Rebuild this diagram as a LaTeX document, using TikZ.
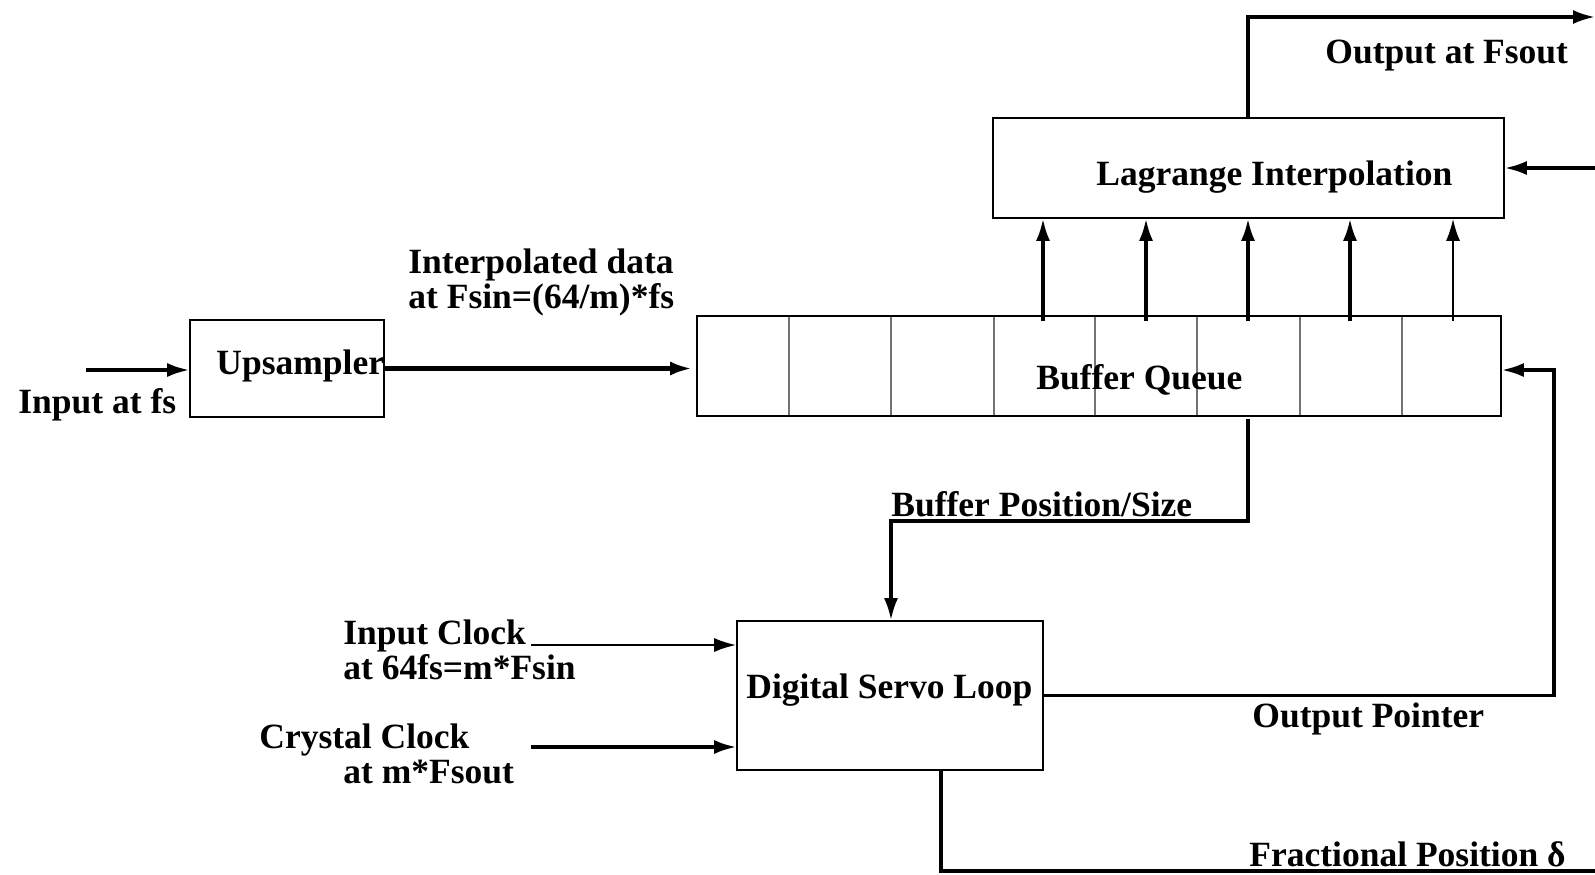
\documentclass[tikz,border=0pt]{standalone}
\usepackage{fontspec}
\setmainfont{Liberation Serif}
\usetikzlibrary{arrows.meta}
\begin{document}
\begin{tikzpicture}[x=0.5pt,y=-0.5pt,
  box/.style={draw, line width=0.8pt, inner sep=0pt},
  lbl/.style={font=\fontsize{17.75}{17.5}\selectfont\bfseries, inner sep=0pt, anchor=base west},
  wire/.style={line width=1.6pt},
  arr/.style={wire, -{Latex[length=11pt,width=7pt]}},
  cell/.style={line width=0.7pt, black!55}]
\useasboundingbox[fill=white] (0,0) rectangle (1595,874);
% boxes
\node[box, minimum width=97pt, minimum height=48.5pt] (ups) at (287,368.5) {};
\node[box, minimum width=402pt, minimum height=50pt] (buf) at (1099,366) {};
\node[box, minimum width=255.5pt, minimum height=50pt] (lag) at (1248.5,168) {};
\node[box, minimum width=153pt, minimum height=74.5pt] (srv) at (890,695.5) {};
% buffer cells
\foreach \x in {789,891,994,1095,1197,1300,1402}
  \draw[cell] (\x,317) -- (\x,415);
% labels
\node[lbl] (tin) at (18,413) {Input at fs};
\node[lbl] (tups) at (216,374) {Upsampler};
\node[lbl] (tint1) at (408,273) {Interpolated data};
\node[lbl] (tint2) at (408,308) {at Fsin=(64/m)*fs};
\node[lbl] (tbuf) at (1036,389) {Buffer Queue};
\node[lbl] (tlag) at (1096,185) {Lagrange Interpolation};
\node[lbl] (tout) at (1325,63) {Output at Fsout};
\node[lbl] (tpos) at (891,516) {Buffer Position/Size};
\node[lbl] (tic1) at (343,644) {Input Clock};
\node[lbl] (tic2) at (343,679) {at 64fs=m*Fsin};
\node[lbl] (tcc1) at (259,748) {Crystal Clock};
\node[lbl] (tcc2) at (343,783) {at m*Fsout};
\node[lbl] (tsrv) at (746,698) {Digital Servo Loop};
\node[lbl] (top) at (1252,727) {Output Pointer};
\node[lbl] (tfr) at (1249,866) {Fractional Position δ};
% coordinates
\coordinate (inA) at (86,370);
\coordinate (tap1) at (1043,321);
\coordinate (tap2) at (1146,321);
\coordinate (tap3) at (1248,321);
\coordinate (tap4) at (1350,321);
\coordinate (tap5) at (1453,321);
\coordinate (outC) at (1248,17);
\coordinate (outE) at (1595,17);
\coordinate (inL) at (1595,168);
\coordinate (bq) at (1248,419);
\coordinate (bp) at (891,521);
\coordinate (ic) at (531,645);
\coordinate (cc) at (531,747);
\coordinate (op) at (1554,370);
\coordinate (fp) at (941,871);
\coordinate (fe) at (1595,871);
% connectors
\draw[arr] (inA) -- (inA -| ups.west);
\draw[arr, line width=2.2pt, shorten >=2pt] (ups.east) -- (ups.east -| buf.west);
\draw[arr] (tap1) -- (tap1 |- lag.south);
\draw[arr] (tap2) -- (tap2 |- lag.south);
\draw[arr] (tap3) -- (tap3 |- lag.south);
\draw[arr] (tap4) -- (tap4 |- lag.south);
\draw[arr, line width=1pt] (tap5) -- (tap5 |- lag.south);
\draw[arr] (outC |- lag.north) -- (outC) -- (outE);
\draw[arr] (inL) -- (inL -| lag.east);
\draw[arr] (bq) |- (bp) -- (bp |- srv.north);
\draw[arr, line width=1.1pt] (ic) -- (ic -| srv.west);
\draw[arr] (cc) -- (cc -| srv.west);
\draw[arr] (srv.east) -| (op) -- (op -| buf.east);
\draw[wire] (fp |- srv.south) -- (fp) -- (fe);
\end{tikzpicture}
\end{document}
